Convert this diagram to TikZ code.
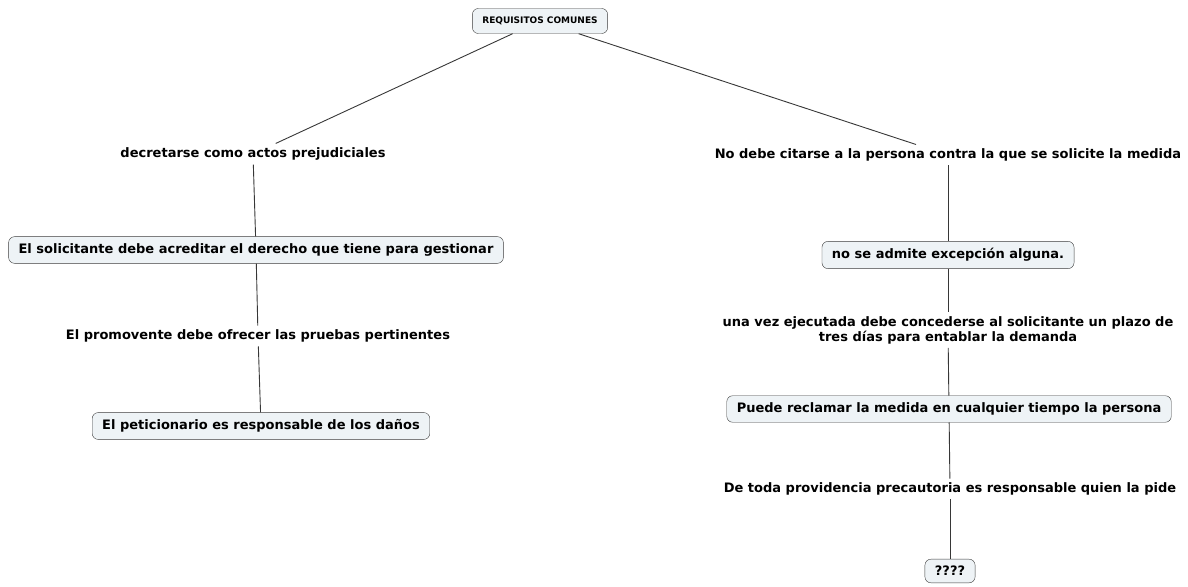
\documentclass[tikz,border=0pt]{standalone}
\usepackage{fontspec}
\setmainfont{DejaVu Sans}
\usepackage{xcolor}
\definecolor{boxfill}{RGB}{238, 243, 246}
\definecolor{boxline}{RGB}{60, 60, 60}
\definecolor{linkgray}{RGB}{55, 55, 55}
\usepackage{tikz}
\usetikzlibrary{positioning}

\tikzset{
  concept/.style={draw=boxline, fill=boxfill, rounded corners=6pt,
    inner xsep=10pt, inner ysep=7pt, font=\bfseries\fontsize{13}{15}\selectfont},
  linking/.style={inner sep=4pt, align=center,
    font=\bfseries\fontsize{13}{15}\selectfont},
  link/.style={draw=linkgray, line width=0.9pt}
}

\begin{document}
\begin{tikzpicture}[x=1pt, y=-1pt]
  \useasboundingbox (0,0) rectangle (1188,586);
  % root
  \node[concept, inner xsep=10pt, inner ysep=8.5pt,
    font=\bfseries\fontsize{9}{11}\selectfont]
    (req) at (540,21) {REQUISITOS COMUNES};
  % left branch
  \node[linking] (decr) at (253,154) {decretarse como actos prejudiciales};
  \node[concept] (solic) at (256,250)
    {El solicitante debe acreditar el derecho que tiene para gestionar};
  \node[linking] (prom) at (258,336)
    {El promovente debe ofrecer las pruebas pertinentes};
  \node[concept] (petic) at (261,426)
    {El peticionario es responsable de los daños};
  % right branch
  \node[linking] (citar) at (948,155)
    {No debe citarse a la persona contra la que se solicite la medida};
  \node[concept] (excep) at (948,255) {no se admite excepción alguna.};
  \node[linking] (plazo) at (948,330)
    {una vez ejecutada debe concederse al solicitante un plazo de\\
     tres días para entablar la demanda};
  \node[concept] (recl) at (949,409)
    {Puede reclamar la medida en cualquier tiempo la persona};
  \node[linking] (provi) at (950,489)
    {De toda providencia precautoria es responsable quien la pide};
  \node[concept] (quest) at (950,571) {????};

  \path[link]
    (req) edge (decr)
    (decr) edge (solic)
    (solic) edge (prom)
    (prom) edge (petic)
    (req) edge (citar)
    (citar) edge (excep)
    (excep) edge (plazo)
    (plazo) edge (recl)
    (recl) edge (provi)
    (provi) edge (quest)
    ;
\end{tikzpicture}
\end{document}
